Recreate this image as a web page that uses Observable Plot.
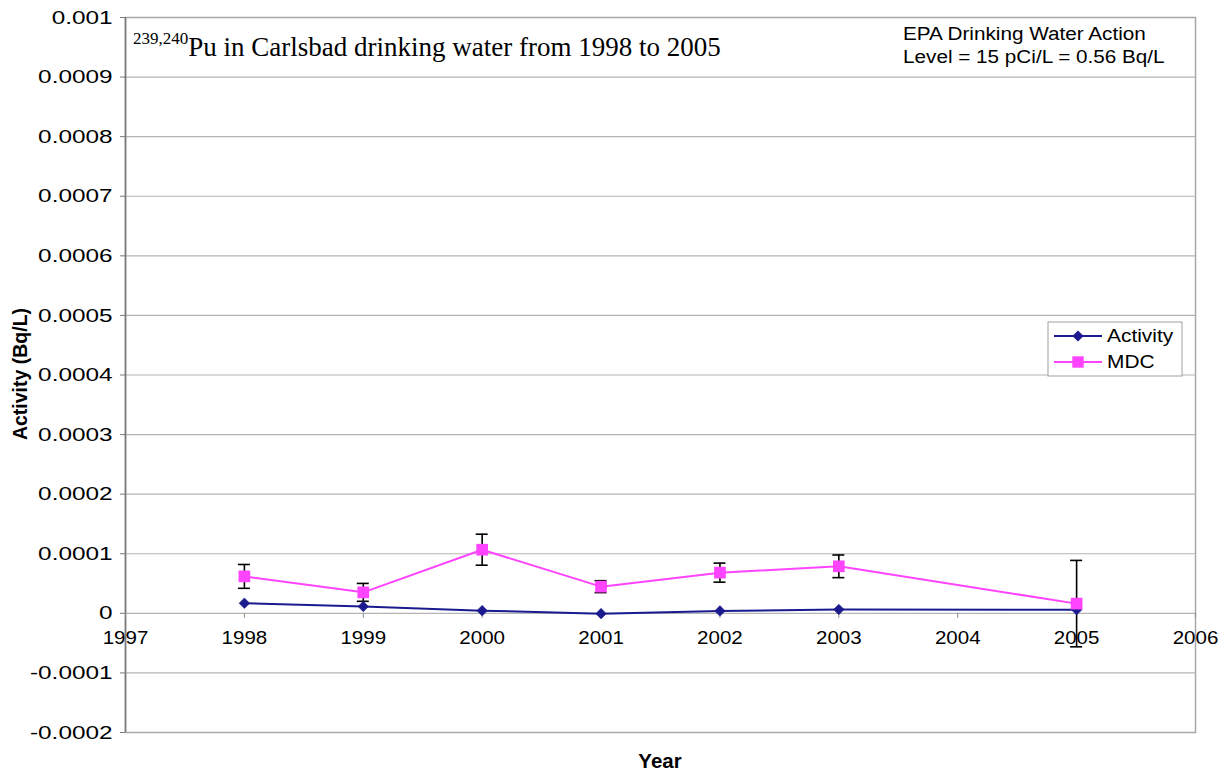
<!DOCTYPE html>
<html>
<head>
<meta charset="utf-8">
<script src="https://cdn.jsdelivr.net/npm/d3@7"></script>
<script src="https://cdn.jsdelivr.net/npm/@observablehq/plot@0.6"></script>
<style>
  html, body { margin: 0; padding: 0; background: #fff; }
  #chart { position: relative; width: 1225px; height: 771px; }
</style>
</head>
<body>
<div id="chart"></div>
<script>
// Sampling years and measured values (Bq/L)
const years    = [1998, 1999, 2000, 2001, 2002, 2003, 2005];
const activity = [0.0000170, 0.0000115, 0.0000045, -0.0000005, 0.0000040, 0.0000065, 0.0000060];
const mdc      = [0.0000620, 0.0000352, 0.0001068, 0.0000448, 0.0000683, 0.0000789, 0.0000163];
const mdcErr   = [0.0000200, 0.0000150, 0.0000260, 0.0000100, 0.0000160, 0.0000190, 0.0000725];

// Axis ticks
const xTicks = [1997, 1998, 1999, 2000, 2001, 2002, 2003, 2004, 2005, 2006];
const yTicks = [-0.0002, -0.0001, 0, 0.0001, 0.0002, 0.0003, 0.0004, 0.0005, 0.0006, 0.0007, 0.0008, 0.0009, 0.001];

// Text
const titleSup = "239,240";
const titleMain = "Pu in Carlsbad drinking water from 1998 to 2005";
const noteLines = ["EPA Drinking Water Action", "Level = 15 pCi/L = 0.56 Bq/L"];
const seriesNames = ["Activity", "MDC"];
const xLabel = "Year";
const yLabel = "Activity (Bq/L)";

const navy = "#1b1b8f";
const pink = "#ff44ff";

const rows = years.map((year, i) => ({
  year, activity: activity[i], mdc: mdc[i],
  lo: mdc[i] - mdcErr[i], hi: mdc[i] + mdcErr[i]
}));

const fmtY = d => d === 0 ? "0" : String(+d.toFixed(4));

const sans = "'Liberation Sans', Arial, sans-serif";

const chart = Plot.plot({
  width: 1225,
  height: 771,
  marginLeft: 125,
  marginRight: 30,
  marginTop: 17,
  marginBottom: 39,
  style: { fontFamily: sans, fontSize: "19px", color: "#000", background: "#fff", overflow: "visible" },
  x: { domain: [1997, 2006], axis: null },
  y: { domain: [-0.0002, 0.001], axis: null },
  marks: [
    Plot.ruleY(yTicks, { stroke: "#b4b4b4", strokeWidth: 1.2 }),
    Plot.frame({ stroke: "#a8a8a8", strokeWidth: 1.5 }),
    Plot.ruleX([1997], { stroke: "#7a7a7a", strokeWidth: 1.6 }),
    Plot.axisY({ ticks: yTicks, tickFormat: fmtY, tickSize: 5, tickPadding: 8, stroke: "#7a7a7a", label: null, fontSize: 19 }),
    Plot.ruleX(xTicks, { x: d => d, y1: 0, y2: 0, insetBottom: -5, stroke: "#8a8a8a" }),
    Plot.text(xTicks, { x: d => d, y: 0, dy: 25, text: d => String(d), fontSize: 19, fill: "#000" }),
    // MDC uncertainty bars with caps
    Plot.ruleX(rows, { x: "year", y1: "lo", y2: "hi", stroke: "#000", strokeWidth: 1.6 }),
    Plot.ruleY(rows, { y: "hi", x1: "year", x2: "year", insetLeft: -6, insetRight: -6, stroke: "#000", strokeWidth: 1.6 }),
    Plot.ruleY(rows, { y: "lo", x1: "year", x2: "year", insetLeft: -6, insetRight: -6, stroke: "#000", strokeWidth: 1.6 }),
    // Series
    Plot.line(rows, { x: "year", y: "activity", stroke: navy, strokeWidth: 2 }),
    Plot.dot(rows, { x: "year", y: "activity", symbol: "diamond2", r: 4.8, fill: navy, stroke: navy, strokeWidth: 0.5 }),
    Plot.line(rows, { x: "year", y: "mdc", stroke: pink, strokeWidth: 2 }),
    Plot.dot(rows, { x: "year", y: "mdc", symbol: "square", r: 6.6, fill: pink, stroke: "none" })
  ]
});

document.getElementById("chart").appendChild(chart);

const svg = d3.select(chart);

// Widen sans-serif labels by stretching each one to a longer text length
function stretch(sel, s) {
  sel.each(function () {
    const w = this.getComputedTextLength();
    if (w > 0) {
      this.setAttribute("textLength", (w * s).toFixed(2));
      this.setAttribute("lengthAdjust", "spacingAndGlyphs");
    }
  });
}
stretch(svg.selectAll('g[aria-label="y-axis tick label"] text'), 1.28);
stretch(svg.selectAll('g[aria-label="text"] text'), 1.08);

// Title inside the plot area
const title = svg.append("text")
  .attr("x", 133).attr("y", 56)
  .attr("text-anchor", "start")
  .attr("font-family", "'Liberation Serif', 'Times New Roman', serif")
  .attr("font-size", 27).attr("fill", "#000");
title.append("tspan").attr("font-size", 17).attr("dy", -12).text(titleSup);
title.append("tspan").attr("dy", 12).text(titleMain);

// Regulatory note, top right
noteLines.forEach((t, i) => {
  svg.append("text")
    .attr("x", 903).attr("y", 40 + i * 23)
    .attr("text-anchor", "start")
    .attr("font-family", sans).attr("font-size", 18).attr("fill", "#000")
    .text(t)
    .call(stretch, 1.15);
});

// Legend
const lg = svg.append("g");
lg.append("rect").attr("x", 1048).attr("y", 322).attr("width", 134).attr("height", 54)
  .attr("fill", "#fff").attr("stroke", "#a0a0a0");
const legendItems = [
  { name: seriesNames[0], color: navy, symbol: d3.symbolDiamond2, size: 80, y: 336 },
  { name: seriesNames[1], color: pink, symbol: d3.symbolSquare, size: 130, y: 362 }
];
legendItems.forEach(it => {
  lg.append("line").attr("x1", 1054).attr("x2", 1102).attr("y1", it.y).attr("y2", it.y)
    .attr("stroke", it.color).attr("stroke-width", 2);
  lg.append("path").attr("d", d3.symbol(it.symbol, it.size)())
    .attr("transform", `translate(1078,${it.y})`).attr("fill", it.color);
  lg.append("text").attr("x", 1107).attr("y", it.y + 6)
    .attr("text-anchor", "start")
    .attr("font-family", sans).attr("font-size", 19).attr("fill", "#000").text(it.name)
    .call(stretch, 1.1);
});

// Axis titles
svg.append("text")
  .attr("transform", "translate(27,374) rotate(-90)")
  .attr("text-anchor", "middle")
  .attr("font-family", sans).attr("font-size", 19.5).attr("font-weight", "bold").attr("fill", "#000")
  .text(yLabel);
svg.append("text")
  .attr("x", 660).attr("y", 768)
  .attr("text-anchor", "middle")
  .attr("font-family", sans).attr("font-size", 19.5).attr("font-weight", "bold").attr("fill", "#000")
  .text(xLabel)
  .call(stretch, 1.05);
</script>
</body>
</html>
